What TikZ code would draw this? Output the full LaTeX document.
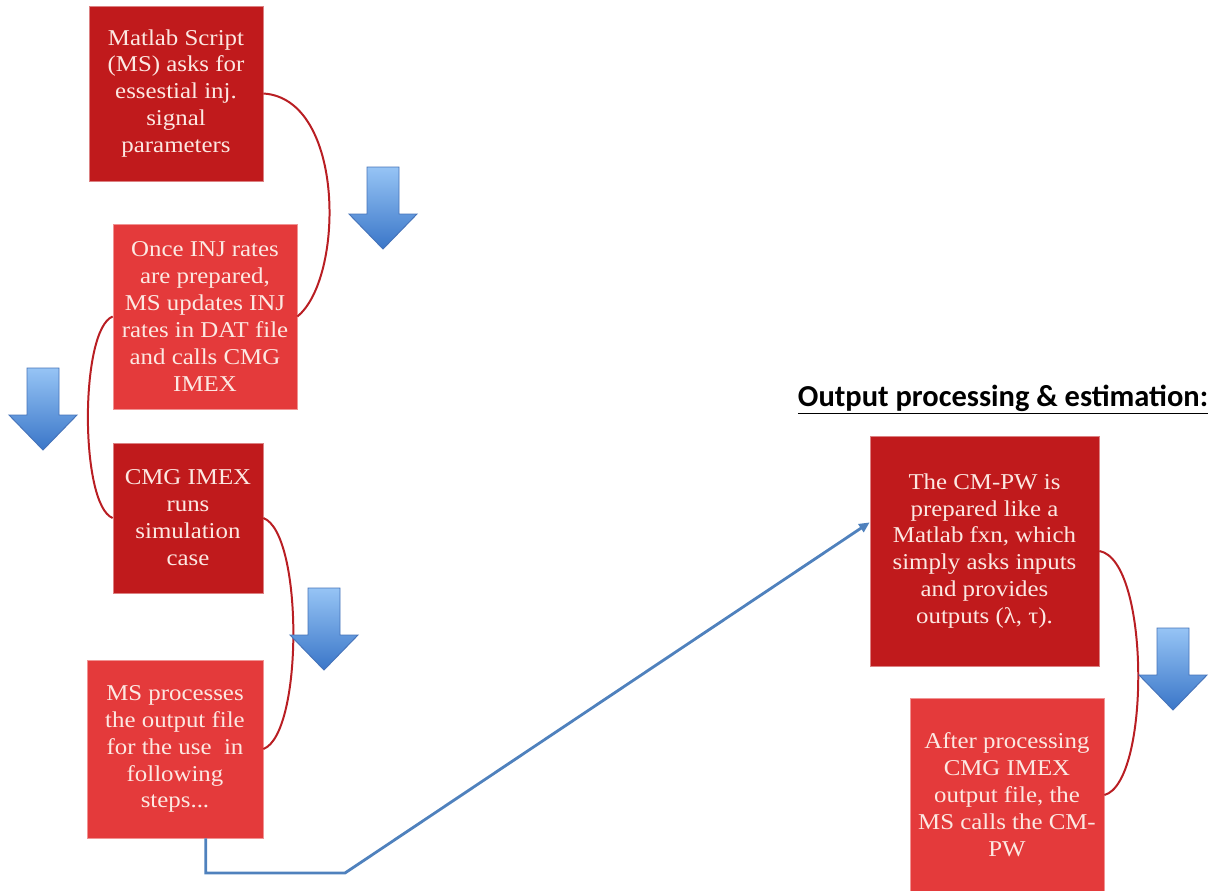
\documentclass[tikz,border=0pt]{standalone}
\usepackage{fontspec}
\setmainfont{Liberation Serif}[FakeStretch=1.1]
\newfontfamily\headfont{Carlito}
\usetikzlibrary{arrows.meta}

\definecolor{boxdark}{RGB}{192,26,28}
\definecolor{boxlight}{RGB}{228,58,59}
\definecolor{boxtext}{RGB}{252,232,226}
\definecolor{curvered}{RGB}{185,30,35}
\definecolor{linkblue}{RGB}{79,129,189}
\definecolor{arrowtop}{RGB}{150,196,245}
\definecolor{arrowbot}{RGB}{58,118,200}
\definecolor{arrowedge}{RGB}{70,115,185}

\def\px{0.03cm}

% blue block arrow pointing down, (#1,#2) = top centre of the shaft
\newcommand{\flowarrow}[2]{%
  \draw[blockarrow, shift={(#1,#2)}] (-16,0) -- (16,0) -- (16,47) -- (34,47)
    -- (0,82) -- (-34,47) -- (-16,47) -- cycle;}

\begin{document}
\begin{tikzpicture}[x=\px, y=-\px,
    stepbox/.style={rectangle, inner sep=0pt, align=center, text=boxtext,
      font=\fontsize{19.3}{23}\selectfont},
    darkbox/.style={stepbox, fill=boxdark, draw=boxdark!55!white, line width=0.6pt},
    lightbox/.style={stepbox, fill=boxlight, draw=boxlight!55!white, line width=0.6pt},
    bracket/.style={draw=curvered, line width=1.7pt},
    link/.style={draw=linkblue, line width=2.4pt, -{Triangle[length=9pt,width=8pt]}},
    blockarrow/.style={draw=arrowedge, line width=0.8pt, top color=arrowtop, bottom color=arrowbot}]

    \useasboundingbox (0,0) rectangle (1217,890);

    % --- left column: input side ---
    \node[darkbox, minimum width=174*\px, minimum height=175*\px] (ask) at (176,93.5)
        {Matlab Script\\(MS) asks for\\essestial inj.\\signal\\parameters};
    \node[lightbox, minimum width=184*\px, minimum height=185*\px] (update) at (205,316.5)
        {Once INJ rates\\are prepared,\\MS updates INJ\\rates in DAT file\\and calls CMG\\IMEX};
    \node[darkbox, minimum width=150*\px, minimum height=150*\px] (run) at (188,518)
        {CMG IMEX\\runs\\simulation\\case};
    \node[lightbox, minimum width=176*\px, minimum height=178*\px] (process) at (175,749)
        {MS processes\\the output file\\for the use\ \ in\\following\\steps...};

    % --- right column: output side ---
    \node[font=\headfont\bfseries\fontsize{26}{30}\selectfont, anchor=base] (head) at (1003,406)
        {\underline{Output processing \& estimation:}};
    \node[darkbox, minimum width=229*\px, minimum height=230*\px] (cmpw) at (984.5,551)
        {The CM-PW is\\prepared like a\\Matlab fxn, which\\simply asks inputs\\and provides\\outputs (λ, τ).};
    \node[lightbox, minimum width=194*\px, minimum height=193*\px] (call) at (1007,795)
        {After processing\\CMG IMEX\\output file, the\\MS calls the CM-\\PW};

    % --- red brackets between the steps ---
    \draw[bracket] (ask.east) .. controls +(82,5) and +(47,-38) .. (update.east);
    \draw[bracket] (update.west) .. controls +(-33,13) and +(-33,-13) .. (run.west);
    \draw[bracket] (run.east) .. controls +(40,15) and +(40,-15) .. (process.east);
    \draw[bracket] (cmpw.east) .. controls +(51,9) and +(46,-12) .. (call.east);

    % --- block arrows ---
    \flowarrow{383}{167}
    \flowarrow{43}{368}
    \flowarrow{324}{588}
    \flowarrow{1173}{628}

    % --- link to the output side ---
    \coordinate (bend) at (345,873);
    \draw[link] (process.-71) |- (bend) -- (cmpw.166);

\end{tikzpicture}
\end{document}
